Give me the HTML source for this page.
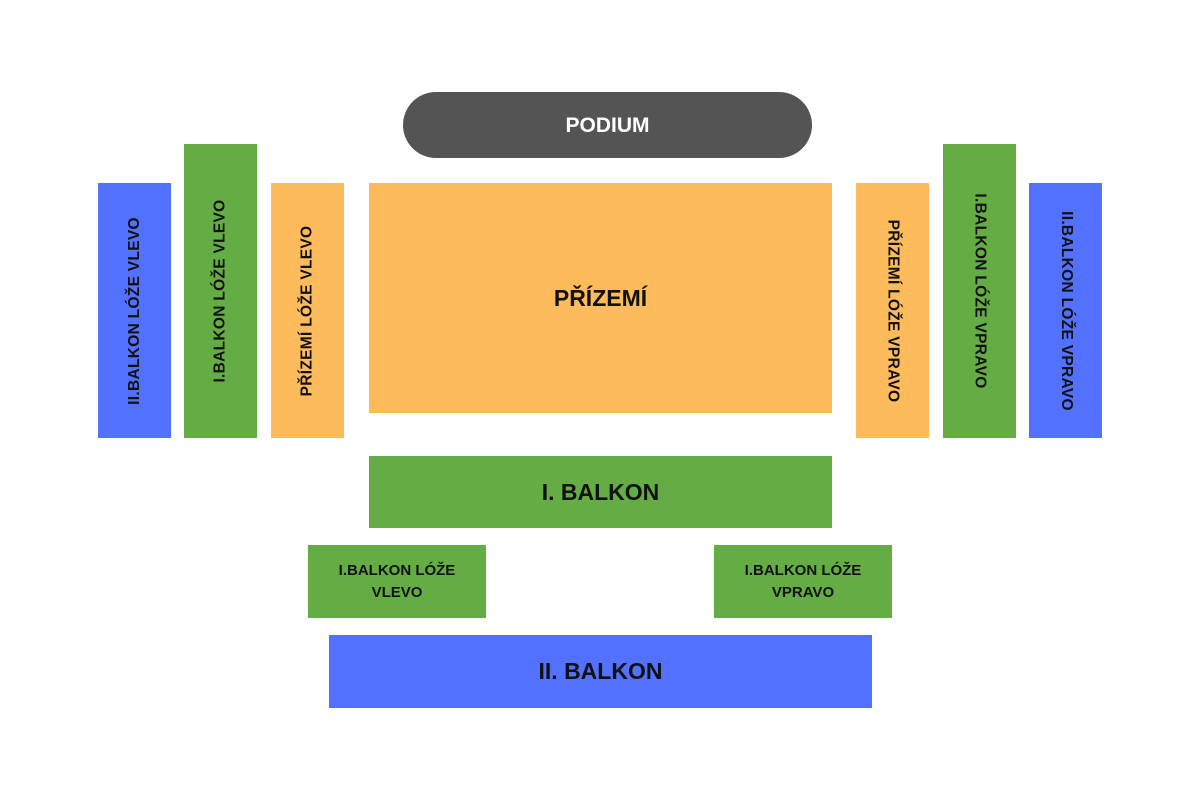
<!DOCTYPE html>
<html><head><meta charset="utf-8"><style>
html,body{margin:0;padding:0;background:#fff;}
body{width:1200px;height:800px;position:relative;overflow:hidden;font-family:"Liberation Sans",sans-serif;font-weight:bold;color:#111;}
.b{position:absolute;display:flex;align-items:center;justify-content:center;text-align:center;}
.o{background:#FDBB5B}.g{background:#64AD45}.bl{background:#5271FF}
.v{position:absolute;display:flex;align-items:center;justify-content:center;}
.v span{white-space:nowrap;font-size:15.5px;letter-spacing:0.3px;}
.l span{transform:rotate(-90deg);}
.r span{transform:rotate(90deg);}
</style></head><body>
<div class="b" style="left:403px;top:92px;width:409px;height:66px;background:#545454;border-radius:33px;color:#fff;font-size:21px;padding-top:2px;box-sizing:border-box;">PODIUM</div>

<div class="v l bl" style="left:98px;top:183px;width:73px;height:255px;"><span>II.BALKON LÓŽE VLEVO</span></div>
<div class="v l g" style="left:184px;top:144px;width:73px;height:294px;"><span>I.BALKON LÓŽE VLEVO</span></div>
<div class="v l o" style="left:271px;top:183px;width:73px;height:255px;"><span>PŘÍZEMÍ LÓŽE VLEVO</span></div>

<div class="b o" style="left:369px;top:183px;width:463px;height:230px;font-size:23px;">PŘÍZEMÍ</div>

<div class="v r o" style="left:856px;top:183px;width:73px;height:255px;"><span>PŘÍZEMÍ LÓŽE VPRAVO</span></div>
<div class="v r g" style="left:943px;top:144px;width:73px;height:294px;"><span>I.BALKON LÓŽE VPRAVO</span></div>
<div class="v r bl" style="left:1029px;top:183px;width:73px;height:255px;"><span>II.BALKON LÓŽE VPRAVO</span></div>

<div class="b g" style="left:369px;top:456px;width:463px;height:72px;font-size:23px;">I. BALKON</div>
<div class="b g" style="left:308px;top:545px;width:178px;height:73px;font-size:15px;line-height:22px;">I.BALKON LÓŽE<br>VLEVO</div>
<div class="b g" style="left:714px;top:545px;width:178px;height:73px;font-size:15px;line-height:22px;">I.BALKON LÓŽE<br>VPRAVO</div>
<div class="b bl" style="left:329px;top:635px;width:543px;height:73px;font-size:23px;">II. BALKON</div>
</body></html>
